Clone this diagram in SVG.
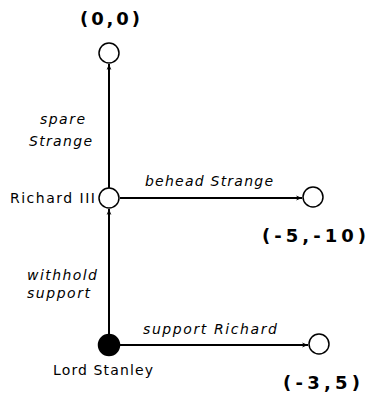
<svg xmlns="http://www.w3.org/2000/svg" width="369" height="395" viewBox="0 0 369 395">
<defs>
<marker id="arr" viewBox="0 0 10 10" refX="10" refY="5" markerWidth="6" markerHeight="6" orient="auto" markerUnits="userSpaceOnUse">
<path d="M0,1 L10,5 L0,9 L3,5 Z" fill="#000"/>
</marker>
<style>
.node{fill:#fff;stroke:#000;stroke-width:1.5}
.solid{fill:#000;stroke:#000;stroke-width:1.5}
.edge{stroke:#000;stroke-width:2;fill:none;marker-end:url(#arr)}
.pay{font-family:"DejaVu Sans",sans-serif;font-weight:bold;font-size:18px;fill:#000}
.name{font-family:"DejaVu Sans",sans-serif;font-size:14px;fill:#000}
.act{font-family:"DejaVu Sans",sans-serif;font-style:italic;font-size:14px;fill:#000}
</style>
</defs>
<rect width="369" height="395" fill="#fff"/>
<g id="connectors">
<line class="edge" x1="109" y1="188" x2="109" y2="64"/>
<line class="edge" x1="120" y1="198" x2="302" y2="198"/>
<line class="edge" x1="109" y1="335" x2="109" y2="209"/>
<line class="edge" x1="120" y1="345" x2="308" y2="345"/>
<text class="act" x="40" y="124" textLength="45" lengthAdjust="spacing">spare</text>
<text class="act" x="29" y="146" textLength="63" lengthAdjust="spacing">Strange</text>
<text class="act" x="145" y="186" textLength="128" lengthAdjust="spacing">behead Strange</text>
<text class="act" x="27" y="280" textLength="70" lengthAdjust="spacing">withhold</text>
<text class="act" x="27" y="298" textLength="63" lengthAdjust="spacing">support</text>
<text class="act" x="143" y="334" textLength="134" lengthAdjust="spacing">support Richard</text>
</g>
<g id="n_top">
<circle class="node" cx="109" cy="53" r="10"/>
<text class="pay" x="80" y="25" textLength="60" lengthAdjust="spacing">(0,0)</text>
</g>
<g id="n_richard">
<circle class="node" cx="109" cy="198" r="10"/>
<text class="name" x="10" y="203" textLength="85" lengthAdjust="spacing">Richard III</text>
</g>
<g id="n_behead">
<circle class="node" cx="313" cy="197" r="10"/>
<text class="pay" x="262" y="242" textLength="104" lengthAdjust="spacing">(-5,-10)</text>
</g>
<g id="n_stanley">
<circle class="solid" cx="109" cy="345" r="10.5"/>
<text class="name" x="53" y="375" textLength="100" lengthAdjust="spacing">Lord Stanley</text>
</g>
<g id="n_support">
<circle class="node" cx="319" cy="344" r="10"/>
<text class="pay" x="283" y="389" textLength="77" lengthAdjust="spacing">(-3,5)</text>
</g>
</svg>
